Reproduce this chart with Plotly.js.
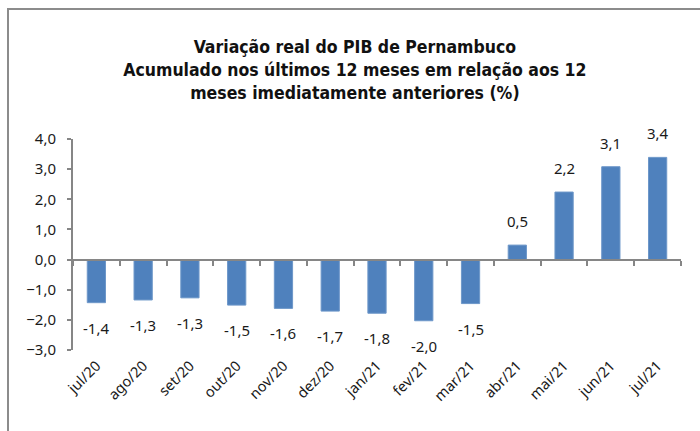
<!DOCTYPE html>
<html>
<head>
<meta charset="utf-8">
<script src="https://cdn.plot.ly/plotly-3.0.1.min.js"></script>
<style>
  html, body { margin: 0; padding: 0; background: #fff; }
  #wrap { position: relative; width: 700px; height: 431px; overflow: hidden; }
  #chart { width: 700px; height: 431px; }
  #frame { position: absolute; left: 7px; top: 8px; width: 900px; height: 900px;
           border: 2px solid #8c8c8c; pointer-events: none; box-sizing: border-box; }
</style>
</head>
<body>
<div id="wrap">
  <div id="chart"></div>
  <div id="frame"></div>
</div>
<script>
const categories = ["jul/20","ago/20","set/20","out/20","nov/20","dez/20","jan/21","fev/21","mar/21","abr/21","mai/21","jun/21","jul/21"];
const values = [-1.43, -1.34, -1.27, -1.51, -1.62, -1.71, -1.78, -2.03, -1.46, 0.48, 2.24, 3.08, 3.39];
const valueLabels = ["-1,4","-1,3","-1,3","-1,5","-1,6","-1,7","-1,8","-2,0","-1,5","0,5","2,2","3,1","3,4"];
const yTickValues = [-3, -2, -1, 0, 1, 2, 3, 4];

const axisColor = "#868686";
const textColor = "#1a1a1a";
const labelFont = { family: "Noto Sans, Open Sans, sans-serif", size: 15, color: textColor };

const trace = {
  type: "bar",
  x: categories,
  y: values,
  marker: { color: "#4f81bd", line: { color: "#6d97c9", width: 1 } },
  hoverinfo: "skip"
};

const annotations = categories.map((c, i) => ({
  x: c, y: values[i], xref: "x", yref: "y",
  text: valueLabels[i], showarrow: false,
  yanchor: "middle", xanchor: "center",
  yshift: values[i] < 0 ? -25 : 24,
  font: labelFont
}));

const layout = {
  width: 700, height: 431,
  margin: { l: 73, r: 19, t: 139, b: 81 },
  paper_bgcolor: "#ffffff", plot_bgcolor: "#ffffff",
  separators: ",.",
  bargap: 0.61,
  showlegend: false,
  title: {
    text: "<b>Variação real do PIB de Pernambuco<br>Acumulado nos últimos 12 meses em relação aos 12<br>meses imediatamente anteriores (%)</b>",
    x: 0.507, xanchor: "center", xref: "container",
    y: 1 - 53 / 431, yanchor: "top", yref: "container",
    font: { family: "Liberation Sans Narrow, DejaVu Sans Condensed, Roboto Condensed, Liberation Sans, sans-serif", size: 17.5, color: "#111" }
  },
  xaxis: {
    type: "category",
    anchor: "free",
    position: 3 / 7,
    showline: true, linecolor: axisColor, linewidth: 2,
    ticks: "outside", tickson: "boundaries", ticklen: 5, tickcolor: axisColor, tickwidth: 2,
    tickangle: -45,
    ticklabelstandoff: 91,
    tickfont: { family: "Noto Sans, Open Sans, sans-serif", size: 14.5, color: textColor },
    showgrid: false, zeroline: false, automargin: false, fixedrange: true
  },
  yaxis: {
    range: [-3, 4],
    tickvals: yTickValues,
    tickformat: ".1f",
    showline: true, linecolor: axisColor, linewidth: 2,
    ticks: "outside", ticklen: 4, tickcolor: axisColor, tickwidth: 2,
    ticklabelstandoff: 8,
    tickfont: labelFont,
    showgrid: false, zeroline: false, automargin: false, fixedrange: true
  },
  annotations: annotations
};

Plotly.newPlot("chart", [trace], layout, { displayModeBar: false, staticPlot: true });
</script>
</body>
</html>
